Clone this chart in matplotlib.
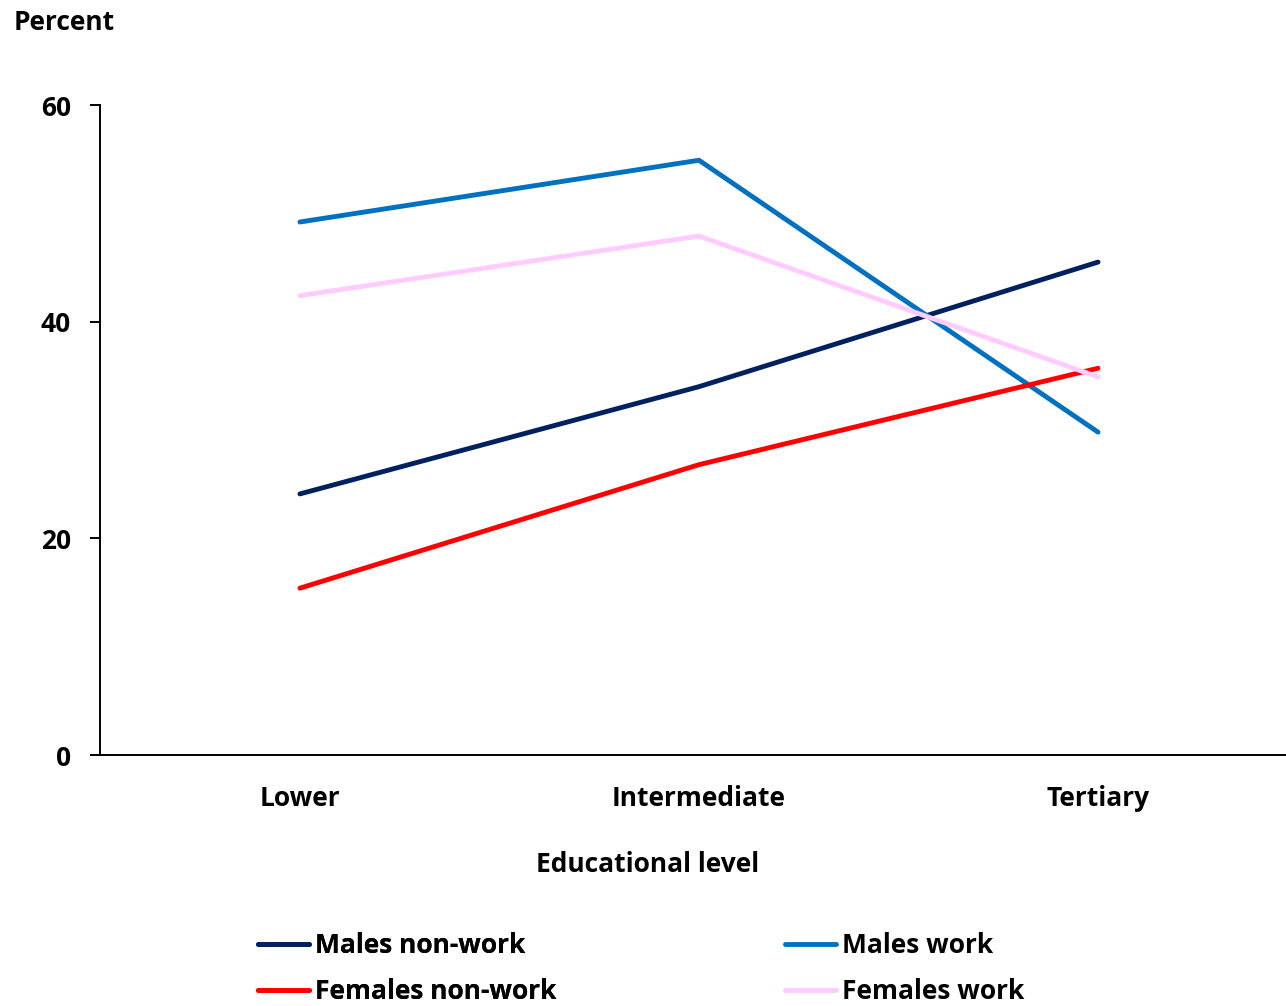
import matplotlib
matplotlib.use("Agg")
import matplotlib.pyplot as plt
from matplotlib.lines import Line2D

categories = ["Lower", "Intermediate", "Tertiary"]
males_nonwork = [24.1, 34.0, 45.5]
males_work = [49.2, 54.9, 29.8]
females_nonwork = [15.4, 26.8, 35.7]
females_work = [42.4, 47.9, 34.9]
yticks = [0, 20, 40, 60]

plt.rcParams['font.family'] = ['Open Sans', 'DejaVu Sans']
plt.rcParams['font.weight'] = 'bold'

W, H = 1286, 1006
fig = plt.figure(figsize=(W / 100, H / 100), dpi=100)
ax = fig.add_axes([100 / W, 1 - 755 / H, 1 - 100 / W, (755 - 105) / H])

x = list(range(len(categories)))
series = [
    ("Males non-work", males_nonwork, "#002060"),
    ("Males work", males_work, "#0070C0"),
    ("Females non-work", females_nonwork, "#FF0000"),
    ("Females work", females_work, "#FFCCFF"),
]
lines = {}
for name, vals, col in series:
    ln, = ax.plot(x, vals, color=col, lw=3.5, solid_capstyle='round', solid_joinstyle='miter', label=name)
    lines[name] = ln

ax.set_xlim(-0.501, 2.471)
ax.set_ylim(0, 60)
ax.set_yticks(yticks)
ax.set_xticks(x)
ax.set_xticklabels(categories)
for s in ["top", "right"]:
    ax.spines[s].set_visible(False)
for s in ["left", "bottom"]:
    ax.spines[s].set_linewidth(1.4)
    ax.spines[s].set_color("black")
ax.tick_params(axis='y', length=7, width=1.4, pad=14, labelsize=19)
ax.tick_params(axis='x', length=0, pad=21.5, labelsize=19)
for lbl in ax.get_xticklabels() + ax.get_yticklabels():
    lbl.set_fontweight('bold')

fig.text(14 / W, 1 - 22 / H, "Percent", fontsize=19, fontweight='bold', ha='left', va='center')
fig.text(648 / W, 1 - 864 / H, "Educational level", fontsize=19, fontweight='bold', ha='center', va='center')

def make_leg(names, xpix):
    handles = [Line2D([0], [0], color=lines[n].get_color(), lw=3.5, solid_capstyle='round') for n in names]
    leg = fig.legend(handles, names, loc='center left', bbox_to_anchor=(xpix / W, 1 - 968.5 / H),
                     frameon=False, handlelength=1.95, handletextpad=0.2,
                     labelspacing=0.7, borderpad=0, borderaxespad=0,
                     prop={'weight': 'bold', 'size': 19})
    return leg

leg1 = make_leg(["Males non-work", "Females non-work"], 258)
fig.add_artist(leg1)
leg2 = make_leg(["Males work", "Females work"], 785)

fig.savefig("out.png", dpi=100)
